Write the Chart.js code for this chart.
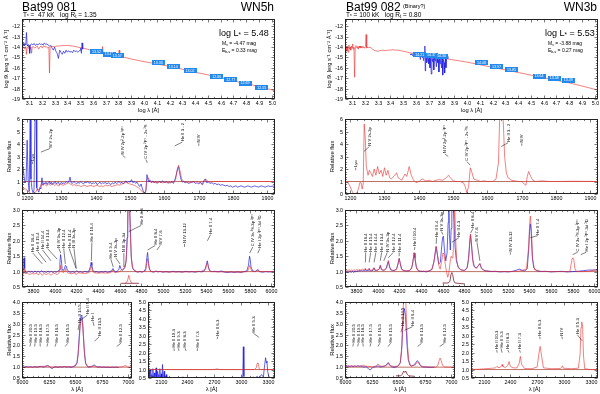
<!DOCTYPE html>
<html><head><meta charset="utf-8">
<script src="https://cdn.jsdelivr.net/npm/chart.js@4.4.1/dist/chart.umd.min.js"></script>
<style>
body{margin:0;background:#fff}
#page{position:relative;width:600px;height:394px;overflow:hidden;font-family:"Liberation Sans",Arial,sans-serif}
#page canvas{position:absolute;left:0;top:0}
.t{position:absolute;line-height:1;white-space:nowrap;color:#000;z-index:5}
.s{font-size:70%;position:relative;top:0.25em}
</style></head><body><div id="page">
<div class="t" style="left:22px;top:1px;font-size:12px">Bat99 081</div>
<div class="t" style="right:326px;top:1px;font-size:12px">WN5h</div>
<div class="t" style="left:23px;top:11.5px;font-size:6.5px">T<span class="s">*</span> =&nbsp; 47 kK&nbsp;&nbsp; log R<span class="s">t</span> = 1.35</div>
<div class="t" style="left:219px;top:28.5px;font-size:9px">log L<span class="s">*</span> = 5.48</div>
<div class="t" style="left:222px;top:41px;font-size:5px">M<span class="s">v</span> = -4.47 mag</div>
<div class="t" style="left:222px;top:48px;font-size:5px">E<span class="s">b-v</span> = 0.33 mag</div>
<div class="t" style="left:346px;top:1px;font-size:12px">Bat99 082</div>
<div class="t" style="left:403px;top:4px;font-size:5.5px">(Binary?)</div>
<div class="t" style="right:3px;top:1px;font-size:12px">WN3b</div>
<div class="t" style="left:346px;top:11.5px;font-size:6.5px">T<span class="s">*</span> = 100 kK&nbsp;&nbsp; log R<span class="s">t</span> = 0.80</div>
<div class="t" style="left:545px;top:28.5px;font-size:9px">log L<span class="s">*</span> = 5.53</div>
<div class="t" style="left:548px;top:41px;font-size:5px">M<span class="s">v</span> = -3.88 mag</div>
<div class="t" style="left:548px;top:48px;font-size:5px">E<span class="s">b-v</span> = 0.27 mag</div>
</div>
<script>
// axis ranges
const sedLogLam = [3.045, 5.025], sedLogF = [-19, -11.3];
const uvLam = [1185, 1922], uvFlux = [0, 6];
const optLam = [3700, 6035], optFlux = [0.5, 3.0];
const haLam = [6000, 7035], haFlux = [0.5, 4.0];
const irLam = [1960, 3380], irFlux = [0.5, 5.0];
const contLevel = 1;

// ---- Bat99 081 (left) ----
const sedObsL = [[3.045,-14.0],[3.05,-13.7],[3.055,-13.85],[3.06,-13.6],[3.065,-13.9],[3.07,-13.7],[3.075,-13.75],[3.08,-12.6],[3.085,-13.8],[3.09,-13.9],[3.095,-13.75],[3.1,-13.85],[3.105,-14.6],[3.11,-13.8],[3.115,-13.75],[3.12,-13.7],[3.13,-13.8],[3.14,-13.65],[3.15,-13.85],[3.16,-13.7],[3.17,-13.8],[3.18,-13.65],[3.19,-13.75],[3.2,-13.7],[3.21,-13.8],[3.22,-13.6],[3.23,-13.75],[3.24,-13.7],[3.25,-13.8],[3.26,-13.9],[3.27,-13.85],[3.28,-14.1],[3.29,-14.3],[3.3,-14.0],[3.31,-14.4],[3.32,-14.6],[3.33,-15.1],[3.34,-14.3],[3.35,-14.5],[3.36,-14.7],[3.37,-14.4],[3.38,-14.6],[3.39,-14.3],[3.4,-14.5],[3.41,-14.35],[3.42,-14.5],[3.43,-14.4],[3.44,-14.55],[3.45,-14.3],[3.46,-14.45],[3.47,-14.35],[3.48,-14.5],[3.49,-14.4],[3.5,-14.3],[3.505,-14.1],[3.51,-14.6],[3.515,-13.6],[3.52,-14.2]];
const sedModL = [[3.045,-14.1],[3.055,-14.0],[3.065,-14.2],[3.075,-13.95],[3.08,-14.7],[3.085,-14.1],[3.095,-13.9],[3.105,-14.3],[3.115,-14.0],[3.12,-14.6],[3.125,-14.0],[3.135,-13.95],[3.145,-14.1],[3.155,-14.0],[3.165,-13.9],[3.175,-14.2],[3.185,-14.0],[3.195,-13.9],[3.205,-14.1],[3.215,-13.85],[3.225,-14.0],[3.235,-13.95],[3.245,-14.1],[3.255,-14.0],[3.26,-16.5],[3.265,-14.05],[3.275,-13.9],[3.285,-13.95],[3.3,-13.95],[3.32,-13.9],[3.34,-13.9],[3.36,-13.85],[3.38,-13.85],[3.4,-13.85],[3.42,-13.87],[3.44,-13.9],[3.46,-13.95],[3.48,-14.0],[3.5,-14.05],[3.53,-14.12],[3.56,-14.22],[3.6,-14.35],[3.64,-14.48],[3.67,-14.55],[3.675,-13.95],[3.68,-14.57],[3.7,-14.62],[3.75,-14.75],[3.8,-14.88],[3.805,-14.3],[3.81,-14.9],[3.85,-15.0],[3.9,-15.15],[3.95,-15.28],[4.0,-15.4],[4.1,-15.62],[4.2,-15.87],[4.3,-16.13],[4.4,-16.42],[4.5,-16.68],[4.6,-16.97],[4.7,-17.25],[4.8,-17.52],[4.9,-17.8],[5.025,-18.2]];
const sedPhotL = [[3.628,-14.46],[3.727,-14.68],[3.79,-14.81],[4.111,-15.52],[4.229,-15.9],[4.36,-16.25],[4.569,-16.86],[4.679,-17.11],[4.791,-17.46],[4.922,-17.88]];
const sedMagL = ['13.52','13.61','13.57','13.33','13.14','13.02','12.86','12.77','12.69','12.55'];

const uvObsL = [[1185,1.9],[1188,2.2],[1191,1.4],[1194,0.9],[1197,1.1],[1200,4.3],[1203,1.0],[1206,0.2],[1209,6.5],[1211,1.2],[1214,0.4],[1217,0.1],[1220,0.3],[1223,6.5],[1226,6.5],[1228,0.5],[1231,0.3],[1234,0.15],[1237,0.5],[1240,0.4],[1243,1.3],[1246,0.7],[1249,0.9],[1252,0.8],[1255,0.95],[1258,0.75],[1261,0.9],[1264,1.0],[1267,0.8],[1270,0.95],[1273,0.75],[1276,0.9],[1279,0.85],[1282,1.0],[1285,0.8],[1288,0.9],[1291,0.95],[1294,0.75],[1297,0.85],[1300,0.95],[1303,0.8],[1306,0.9],[1310,0.85],[1314,1.0],[1318,0.9],[1322,1.05],[1325,1.35],[1328,0.9],[1332,0.85],[1336,1.0],[1340,0.9],[1344,0.8],[1348,0.95],[1352,0.85],[1356,1.0],[1360,0.9],[1364,0.8],[1368,0.95],[1372,0.9],[1376,1.0],[1380,0.85],[1384,0.95],[1388,0.8],[1392,0.9],[1396,0.85],[1400,0.95],[1404,0.75],[1408,0.85],[1412,0.95],[1416,0.8],[1420,0.9],[1424,0.85],[1428,0.95],[1432,0.8],[1436,0.9],[1440,0.85],[1444,0.75],[1448,0.9],[1452,0.8],[1456,0.95],[1460,0.85],[1464,0.9],[1468,1.0],[1472,0.85],[1476,0.95],[1480,0.8],[1484,0.95],[1488,1.05],[1492,0.9],[1496,1.0],[1500,0.95],[1504,1.15],[1508,0.9],[1512,1.0],[1516,0.85],[1520,0.95],[1524,0.75],[1528,0.6],[1532,0.8],[1536,0.4],[1540,0.1],[1543,0.05],[1546,0.3],[1549,1.55],[1552,1.2],[1555,0.95],[1558,1.1],[1562,0.9],[1566,1.05],[1570,0.9],[1574,1.0],[1578,0.85],[1582,0.95],[1586,1.0],[1590,0.9],[1594,1.05],[1598,0.95],[1602,0.9],[1606,1.0],[1610,0.85],[1614,0.95],[1618,0.9],[1622,1.0],[1626,0.85],[1630,1.1],[1634,1.5],[1638,2.0],[1641,2.2],[1644,1.7],[1648,1.2],[1652,0.95],[1656,1.0],[1660,0.9],[1665,0.95],[1670,0.85],[1675,0.9],[1680,0.95],[1685,1.0],[1690,0.85],[1695,0.9],[1700,0.8],[1705,0.95],[1710,0.75],[1715,1.1],[1719,1.2],[1723,0.9],[1728,0.95],[1733,0.85],[1738,0.9],[1743,0.8],[1748,0.85],[1753,0.75],[1758,0.8],[1763,0.7],[1768,0.75],[1773,0.7],[1778,0.65],[1783,0.7],[1788,0.6],[1793,0.65],[1798,0.55],[1803,0.6],[1808,0.65],[1813,0.55],[1818,0.6],[1823,0.65],[1828,0.6],[1833,0.55],[1838,0.6],[1843,0.65],[1848,0.6],[1853,0.55],[1858,0.6],[1863,0.65],[1868,0.6],[1873,0.55],[1878,0.6],[1883,0.65],[1888,0.6],[1893,0.55],[1898,0.6],[1903,0.65],[1908,0.6],[1913,0.62],[1922,0.65]];
const uvModL = [[1185,0.5],[1190,0.45],[1195,0.4],[1200,0.3],[1205,0.15],[1210,0.05],[1215,0.0],[1220,0.05],[1225,0.15],[1230,0.45],[1234,0.3],[1238,0.55],[1242,0.85],[1246,0.7],[1250,0.8],[1256,0.65],[1262,0.8],[1268,0.7],[1274,0.85],[1280,0.7],[1286,0.75],[1292,0.65],[1298,0.8],[1304,0.7],[1310,0.75],[1316,0.85],[1322,0.9],[1326,0.8],[1332,0.7],[1338,0.75],[1344,0.65],[1350,0.7],[1356,0.6],[1362,0.65],[1368,0.7],[1374,0.6],[1380,0.65],[1386,0.7],[1392,0.6],[1398,0.65],[1404,0.7],[1410,0.6],[1416,0.65],[1422,0.6],[1428,0.7],[1434,0.65],[1440,0.7],[1446,0.6],[1452,0.65],[1458,0.7],[1464,0.75],[1470,0.7],[1476,0.8],[1482,0.85],[1488,0.95],[1494,0.85],[1500,0.8],[1506,0.75],[1512,0.7],[1518,0.6],[1524,0.5],[1530,0.35],[1536,0.15],[1541,0.05],[1545,0.1],[1549,1.1],[1553,1.3],[1558,1.0],[1565,0.95],[1575,0.9],[1585,0.95],[1595,0.9],[1605,0.95],[1615,0.9],[1625,0.95],[1632,1.1],[1637,1.9],[1641,2.3],[1645,1.9],[1650,1.2],[1656,1.0],[1665,0.95],[1680,0.95],[1695,1.0],[1705,0.9],[1711,0.75],[1716,1.0],[1720,1.2],[1725,1.05],[1732,0.95],[1745,1.0],[1760,1.0],[1800,1.0],[1922,1.0]];
const uvLinesL = [[1216,1216,2.4,2.6,'Lyα'],[1240,1267,3.35,3.65,'N V 2s-2p'],[1486,1478,2.9,3.1,'N IV 2p²-2p ¹P°'],[1550,1546,2.5,2.75,'C IV 2p ²P° - 2s ²S'],[1630,1652,3.85,4.15,'He II 3 - 2'],[1700,1700,3.85,4.05,'N IV']];

const optObsL = [[3700,1.0],[3706,0.97],[3712,1.1],[3716,1.38],[3720,1.45],[3725,1.1],[3732,1.0],[3745,0.96],[3760,1.02],[3775,0.98],[3790,1.01],[3805,0.97],[3820,1.02],[3835,0.98],[3850,1.01],[3865,0.97],[3880,1.03],[3895,0.98],[3910,1.0],[3925,0.97],[3940,1.02],[3955,0.98],[3970,1.01],[3985,0.97],[4000,1.0],[4015,0.98],[4030,1.01],[4042,1.05],[4050,1.3],[4056,1.55],[4062,1.4],[4070,1.1],[4080,1.03],[4092,1.1],[4100,1.2],[4108,1.18],[4118,1.05],[4135,1.0],[4150,0.98],[4170,1.0],[4190,0.97],[4205,1.03],[4220,0.98],[4240,1.0],[4260,0.97],[4280,1.01],[4300,0.98],[4318,1.02],[4330,1.15],[4338,1.3],[4345,1.2],[4355,1.03],[4370,0.99],[4390,1.0],[4410,0.97],[4430,1.0],[4450,0.98],[4470,1.01],[4490,0.97],[4510,1.0],[4528,1.03],[4540,1.1],[4550,1.02],[4565,0.99],[4580,1.02],[4593,1.06],[4603,1.2],[4612,1.1],[4625,1.04],[4640,1.08],[4652,1.15],[4662,1.4],[4670,2.1],[4676,3.0],[4682,3.5],[4688,3.5],[4694,3.2],[4700,2.4],[4708,1.5],[4718,1.15],[4732,1.05],[4750,1.0],[4770,0.98],[4790,1.01],[4810,0.98],[4828,1.02],[4842,1.1],[4852,1.45],[4859,1.62],[4866,1.35],[4876,1.08],[4895,1.0],[4915,0.98],[4935,1.02],[4955,0.99],[4975,1.01],[5000,0.98],[5030,1.0],[5060,0.98],[5090,1.01],[5120,0.99],[5150,1.0],[5180,0.98],[5210,1.01],[5240,0.99],[5270,1.0],[5300,0.98],[5330,1.01],[5360,0.99],[5385,1.03],[5400,1.2],[5410,1.35],[5418,1.2],[5428,1.05],[5450,1.0],[5480,1.01],[5510,0.99],[5540,1.02],[5570,0.98],[5600,0.97],[5630,0.99],[5660,0.97],[5690,0.99],[5720,0.97],[5750,1.0],[5775,1.02],[5790,1.2],[5800,1.5],[5806,1.4],[5814,1.15],[5828,1.03],[5850,1.0],[5870,1.05],[5880,1.06],[5892,1.0],[5920,0.98],[5950,1.0],[5980,0.99],[6010,1.0],[6035,1.0]];
const optModL = [[3700,0.97],[3710,0.92],[3716,1.12],[3722,1.05],[3730,0.93],[3750,0.95],[3770,0.9],[3790,0.94],[3810,0.92],[3830,0.95],[3850,0.9],[3870,0.94],[3888,0.88],[3905,0.95],[3923,0.9],[3945,0.95],[3968,0.88],[3990,0.95],[4010,0.93],[4026,0.9],[4040,0.95],[4050,1.05],[4057,1.2],[4064,1.05],[4080,0.96],[4095,1.02],[4100,1.1],[4110,1.0],[4130,0.95],[4160,0.93],[4185,0.96],[4200,0.9],[4215,0.96],[4250,0.95],[4290,0.94],[4320,0.97],[4335,1.12],[4340,1.2],[4348,1.05],[4365,0.96],[4400,0.95],[4440,0.96],[4480,0.95],[4520,0.97],[4540,1.05],[4555,0.97],[4580,0.98],[4600,1.0],[4615,1.05],[4640,1.1],[4660,1.3],[4672,2.0],[4680,3.0],[4686,3.3],[4692,3.0],[4700,2.2],[4710,1.4],[4725,1.08],[4760,1.0],[4800,0.99],[4840,1.02],[4852,1.3],[4859,1.42],[4868,1.2],[4885,1.0],[4950,1.0],[5050,0.99],[5200,0.99],[5350,1.0],[5395,1.08],[5405,1.25],[5411,1.3],[5420,1.15],[5435,1.0],[5550,0.99],[5700,0.98],[5780,1.0],[5795,1.12],[5801,1.2],[5810,1.12],[5822,1.0],[5860,1.0],[5876,1.06],[5890,1.0],[6035,1.0]];
const optBaseL = [[4615,0.62],[4780,0.62]];
const optPeakL = [[4650,0.62],[4668,0.66],[4678,0.76],[4686,0.88],[4694,0.76],[4704,0.66],[4720,0.62]];
const optLinesL = [[3888,3800,1.25,1.6,'He II 16-4'],[3923,3845,1.3,1.65,'He II 15-4'],[3968,3890,1.35,1.7,'He II 14-4'],[4026,3935,1.4,1.75,'He II 13-4'],[4058,4040,1.6,1.75,'N IV 3s-3p'],[4100,4085,1.25,1.75,'He II 12-4'],[4200,4135,1.1,1.75,'He II 11-4'],[4200,4180,1.1,1.75,'N III 3s-3p'],[4340,4345,1.35,1.95,'He II 10-4'],[4542,4520,1.15,1.4,'He II 9-4'],[4604,4565,1.25,1.45,'N V 3s-3p'],[4640,4640,1.15,1.6,'N III 3p-3d'],[4686,4800,2.3,2.5,'He II 4-3'],[4859,4930,1.7,1.85,'He II 8-4'],[4945,4975,1.7,1.85,'N V 7-6'],[5200,5200,1.8,1.9,'N IV 13-12'],[5411,5440,2.0,2.2,'He II 7-4'],[5801,5830,1.6,1.8,'C IV 3s ²S-3p ²P°'],[5876,5895,1.6,1.75,'He I 2p ³P°-3d ³D']];

const haObsL = [[6000,1.02],[6020,0.99],[6040,1.03],[6060,1.0],[6080,1.02],[6100,0.99],[6120,1.03],[6140,1.0],[6160,1.02],[6180,1.04],[6200,1.0],[6220,1.03],[6240,1.08],[6255,1.04],[6270,0.97],[6285,0.93],[6300,1.0],[6320,1.02],[6340,0.99],[6360,1.02],[6380,1.0],[6400,1.03],[6420,1.0],[6440,1.02],[6460,0.99],[6480,1.02],[6500,1.05],[6515,1.15],[6528,1.6],[6538,2.4],[6548,3.1],[6556,3.38],[6563,3.4],[6570,3.1],[6578,2.4],[6588,1.6],[6600,1.15],[6615,1.03],[6630,1.0],[6650,1.02],[6665,1.06],[6680,1.1],[6695,1.04],[6710,1.0],[6730,1.02],[6750,0.99],[6770,1.01],[6790,0.99],[6810,1.0],[6830,0.98],[6850,1.0],[6870,0.99],[6890,1.0],[6910,0.98]];
const haModL = [[6000,1.0],[6100,1.0],[6170,1.02],[6200,1.04],[6240,1.05],[6280,1.0],[6330,1.01],[6400,1.02],[6480,1.02],[6520,1.2],[6535,2.0],[6548,2.9],[6560,3.3],[6572,2.9],[6585,1.9],[6598,1.2],[6620,1.02],[6683,1.05],[6720,1.0],[6900,1.0],[6950,1.02],[6970,1.08],[6980,1.06],[6995,1.0],[7035,1.0]];
const haLinesL = [[6074,6082,1.95,2.1,'He II 20-5'],[6119,6123,1.95,2.1,'He II 19-5'],[6172,6170,1.95,2.1,'He II 18-5'],[6235,6242,1.95,2.1,'He II 17-5'],[6311,6321,1.95,2.1,'He II 16-5'],[6406,6431,1.95,2.1,'He II 15-5'],[6527,6538,2.7,3.0,'He II 14-5'],[6560,6616,3.2,3.4,'He II 6-4'],[6678,6667,2.9,3.1,'He I'],[6683,6726,2.2,2.4,'He II 13-5'],[6891,6931,1.95,2.1,'He II 12-5']];

const irObsL = [[1960,0.8],[1966,0.5],[1972,0.95],[1978,0.6],[1984,0.5],[1990,1.0],[1996,0.55],[2002,0.7],[2008,0.5],[2014,1.05],[2020,0.6],[2026,0.5],[2032,0.8],[2038,0.5],[2044,0.65],[2050,1.1],[2056,0.55],[2062,0.5],[2068,0.9],[2074,0.5],[2080,0.7],[2086,0.5],[2092,1.05],[2098,0.6],[2104,0.5],[2110,0.75],[2116,0.5],[2122,1.3],[2128,0.55],[2134,0.5],[2140,0.9],[2146,0.5],[2152,0.6],[2158,0.5],[2164,0.7],[2170,0.5],[2180,0.55],[2190,0.5],[2200,0.52],[2300,0.5],[2350,0.55],[2400,0.5],[2950,0.5],[3000,0.52],[3020,0.6],[3026,2.35],[3032,0.6],[3040,0.5],[3100,0.5],[3140,0.55],[3160,0.5],[3180,0.6],[3200,0.5],[3230,0.7],[3250,0.55],[3265,1.3],[3275,1.7],[3283,1.4],[3290,1.5],[3298,0.9],[3310,0.6],[3330,0.5]];
const irModL = [[1960,1.0],[2200,1.0],[2500,1.0],[2700,1.0],[2733,1.04],[2760,1.0],[3100,1.0],[3150,1.0],[3170,1.1],[3180,1.35],[3188,1.4],[3196,1.3],[3205,1.0],[3250,1.0],[3380,1.0]];
const irLinesL = [[2253,2251,2.1,2.26,'He II 10-3'],[2307,2299,2.1,2.26,'He II 9-3'],[2386,2374,2.1,2.26,'He II 8-3'],[2512,2512,2.1,2.26,'He II 7-3'],[2733,2740,2.8,2.95,'He II 6-3'],[3203,3138,2.9,3.15,'He II 5-3']];

// ---- Bat99 082 (right) ----
const sedObsR = [[3.555,-14.7],[3.56,-14.75],[3.565,-14.65],[3.57,-14.8],[3.575,-14.7],[3.58,-14.75],[3.585,-14.9],[3.59,-14.7],[3.595,-14.8],[3.6,-14.75],[3.605,-14.85],[3.61,-14.7],[3.615,-14.8],[3.62,-14.9],[3.625,-14.75],[3.63,-14.85],[3.635,-15.2],[3.64,-14.8],[3.645,-14.9],[3.65,-15.0],[3.655,-14.85],[3.66,-15.3],[3.665,-14.9],[3.67,-13.9],[3.673,-16.3],[3.676,-14.9],[3.68,-15.0],[3.685,-15.5],[3.69,-14.95],[3.695,-15.1],[3.7,-15.6],[3.705,-15.0],[3.71,-16.0],[3.715,-15.1],[3.72,-16.6],[3.725,-15.0],[3.73,-15.4],[3.735,-15.1],[3.74,-16.2],[3.745,-15.0],[3.75,-15.3],[3.755,-15.1],[3.76,-15.9],[3.765,-15.05],[3.77,-15.5],[3.775,-15.2],[3.78,-16.4],[3.785,-15.1],[3.79,-15.6],[3.795,-15.15],[3.8,-16.0],[3.805,-15.1],[3.81,-16.7],[3.815,-15.2],[3.82,-15.5],[3.825,-16.5],[3.83,-15.1],[3.835,-16.0],[3.84,-15.2],[3.845,-14.9],[3.85,-15.1]];
const sedModR = [[3.045,-14.1],[3.05,-14.3],[3.055,-13.9],[3.06,-14.4],[3.065,-14.0],[3.07,-14.5],[3.075,-13.8],[3.08,-14.2],[3.085,-14.0],[3.09,-14.3],[3.095,-13.9],[3.1,-14.1],[3.105,-13.7],[3.11,-14.2],[3.115,-14.0],[3.12,-16.9],[3.125,-14.1],[3.13,-13.85],[3.135,-14.0],[3.14,-14.1],[3.145,-13.95],[3.15,-14.2],[3.155,-13.9],[3.16,-14.05],[3.165,-13.9],[3.17,-14.1],[3.175,-14.0],[3.18,-13.95],[3.185,-14.05],[3.19,-14.0],[3.195,-14.1],[3.2,-14.0],[3.205,-13.95],[3.21,-12.8],[3.215,-14.1],[3.22,-14.0],[3.23,-14.05],[3.24,-14.0],[3.25,-14.1],[3.26,-14.2],[3.28,-14.35],[3.3,-14.4],[3.32,-14.35],[3.34,-14.3],[3.36,-14.35],[3.38,-14.3],[3.4,-14.3],[3.42,-14.25],[3.44,-14.3],[3.46,-14.3],[3.48,-14.35],[3.5,-14.4],[3.52,-14.45],[3.55,-14.55],[3.6,-14.65],[3.65,-14.75],[3.7,-14.85],[3.75,-14.95],[3.8,-15.05],[3.85,-15.15],[3.9,-15.25],[3.95,-15.35],[4.0,-15.45],[4.1,-15.7],[4.2,-15.95],[4.3,-16.2],[4.4,-16.45],[4.5,-16.7],[4.6,-16.95],[4.7,-17.2],[4.8,-17.45],[4.9,-17.75],[5.025,-18.15]];
const sedPhotR = [[3.63,-14.72],[3.721,-14.78],[3.8,-14.88],[4.113,-15.5],[4.231,-15.9],[4.348,-16.2],[4.564,-16.8],[4.682,-17.0],[4.792,-17.2]];
const sedMagR = ['14.21','14.35','14.30','14.08','13.97','13.85','13.64','13.58','13.49'];

const uvModR = [[1185,1.0],[1190,0.95],[1195,0.85],[1200,0.6],[1205,0.25],[1210,0.02],[1215,0.0],[1220,0.1],[1225,0.5],[1228,0.9],[1232,0.9],[1235,0.4],[1238,0.8],[1241,5.6],[1244,4.5],[1247,2.2],[1252,1.5],[1256,1.9],[1260,1.7],[1265,1.4],[1270,2.0],[1275,1.5],[1280,2.2],[1285,1.6],[1290,1.9],[1295,1.4],[1300,2.1],[1305,1.5],[1310,1.9],[1315,1.3],[1320,1.2],[1330,1.5],[1335,1.7],[1340,1.3],[1350,1.1],[1360,1.6],[1365,1.4],[1372,2.2],[1378,1.5],[1385,1.1],[1392,0.9],[1400,1.0],[1410,1.2],[1420,1.05],[1430,1.1],[1440,1.0],[1450,1.1],[1460,1.15],[1470,1.1],[1480,1.3],[1486,1.5],[1492,1.3],[1500,1.05],[1510,1.0],[1520,1.0],[1530,0.9],[1535,0.6],[1540,0.1],[1545,0.6],[1550,2.1],[1555,1.7],[1560,1.2],[1570,1.1],[1580,1.0],[1590,1.05],[1600,1.0],[1615,1.0],[1625,1.2],[1632,2.5],[1636,6.5],[1645,6.5],[1650,3.0],[1655,1.7],[1660,1.3],[1670,1.1],[1690,1.0],[1700,1.0],[1707,0.8],[1712,0.7],[1716,1.4],[1720,1.8],[1726,1.4],[1732,1.1],[1740,1.0],[1760,1.05],[1780,1.0],[1800,1.0],[1850,1.02],[1922,1.0]];
const uvLinesR = [[1216,1216,1.9,2.1,'Lyα'],[1240,1256,3.4,3.8,'N V 2s-2p'],[1486,1476,3.0,3.2,'N IV 2p²-2p ¹P°'],[1550,1540,2.3,2.6,'C IV 2p ²P° - 2s ²S'],[1640,1660,3.8,4.1,'He II 3 - 2'],[1700,1700,3.85,4.05,'N IV']];

const optObsR = [[3700,0.96],[3715,0.99],[3730,0.97],[3745,1.0],[3760,0.98],[3770,1.01],[3780,0.97],[3790,1.02],[3800,0.99],[3810,1.03],[3820,1.0],[3830,1.04],[3840,1.01],[3850,1.05],[3860,1.02],[3870,1.04],[3880,1.03],[3888,1.08],[3896,1.02],[3905,1.04],[3915,1.03],[3923,1.09],[3932,1.02],[3945,1.03],[3958,1.04],[3968,1.12],[3978,1.03],[3992,1.04],[4005,1.05],[4018,1.1],[4026,1.2],[4034,1.08],[4050,1.04],[4065,1.05],[4080,1.1],[4092,1.25],[4100,1.33],[4108,1.22],[4120,1.06],[4140,1.03],[4160,1.04],[4178,1.1],[4192,1.3],[4200,1.42],[4208,1.3],[4222,1.08],[4245,1.03],[4270,1.02],[4295,1.03],[4315,1.1],[4328,1.35],[4338,1.6],[4346,1.45],[4358,1.15],[4375,1.03],[4400,1.0],[4425,1.01],[4450,0.99],[4475,1.02],[4500,1.06],[4520,1.3],[4532,1.6],[4542,1.8],[4552,1.55],[4565,1.25],[4580,1.3],[4592,1.8],[4600,2.1],[4608,2.15],[4618,1.7],[4630,1.35],[4642,1.6],[4652,2.6],[4658,3.3],[4664,2.2],[4672,1.7],[4680,2.4],[4686,3.3],[4696,3.3],[4706,2.6],[4716,1.8],[4728,1.35],[4745,1.15],[4770,1.06],[4800,1.04],[4825,1.1],[4840,1.4],[4850,1.9],[4858,2.2],[4866,1.95],[4878,1.4],[4895,1.15],[4915,1.12],[4932,1.2],[4945,1.25],[4958,1.12],[4980,1.04],[5010,1.02],[5050,1.0],[5090,1.01],[5130,0.99],[5170,1.0],[5210,0.99],[5250,1.01],[5285,1.05],[5310,1.08],[5335,1.04],[5360,1.02],[5382,1.1],[5395,1.7],[5405,2.4],[5411,2.55],[5418,2.3],[5428,1.5],[5442,1.12],[5470,1.03],[5510,1.0],[5550,1.01],[5600,0.99],[5650,1.0],[5700,1.01],[5750,0.99],[5800,1.0],[5850,1.01],[5900,1.03],[5950,1.05],[6000,1.05],[6035,1.06]];
const optModR = [[3700,1.0],[3712,1.05],[3725,1.03],[3740,1.06],[3752,1.02],[3760,1.06],[3772,1.03],[3785,1.06],[3798,1.03],[3810,1.07],[3822,1.04],[3835,1.07],[3848,1.04],[3860,1.08],[3872,1.05],[3888,1.11],[3900,1.04],[3912,1.06],[3923,1.11],[3935,1.04],[3950,1.05],[3968,1.13],[3982,1.04],[4000,1.05],[4015,1.08],[4026,1.2],[4038,1.06],[4060,1.05],[4085,1.12],[4100,1.36],[4112,1.12],[4140,1.04],[4175,1.06],[4190,1.25],[4200,1.44],[4210,1.25],[4225,1.06],[4260,1.02],[4300,1.04],[4322,1.2],[4338,1.62],[4348,1.35],[4362,1.08],[4390,1.02],[4430,1.01],[4470,1.02],[4505,1.08],[4525,1.4],[4540,1.83],[4552,1.6],[4566,1.2],[4578,1.08],[4590,1.3],[4604,1.6],[4614,1.58],[4625,1.25],[4638,0.97],[4648,0.82],[4658,0.95],[4670,1.3],[4680,1.5],[4688,1.45],[4696,1.5],[4704,2.0],[4712,3.3],[4720,2.2],[4730,1.4],[4745,1.12],[4770,1.05],[4805,1.03],[4830,1.15],[4845,1.6],[4858,2.22],[4870,1.75],[4885,1.2],[4910,1.1],[4932,1.2],[4945,1.27],[4960,1.1],[5000,1.02],[5100,1.0],[5200,1.0],[5300,1.01],[5375,1.08],[5395,1.8],[5405,2.6],[5411,2.8],[5420,2.4],[5432,1.4],[5450,1.06],[5500,1.01],[5600,1.0],[5700,1.0],[5775,1.0],[5785,1.2],[5795,1.4],[5803,1.45],[5812,1.38],[5822,1.1],[5835,1.0],[5900,1.0],[5950,1.01],[6000,1.05],[6035,1.05]];
const optInsetR = [[4600,0.63],[4650,0.63],[4668,0.68],[4678,0.9],[4686,0.97],[4694,0.9],[4704,0.7],[4716,0.63],[4800,0.6]];
const optLinesR = [[3888,3891,1.3,1.62,'He II 16-4'],[3923,3937,1.3,1.62,'He II 15-4'],[3968,3985,1.3,1.62,'He II 14-4'],[4026,4038,1.35,1.62,'He II 13-4'],[4058,4090,1.35,1.62,'N IV 3s-3p'],[4100,4145,1.45,1.62,'He II 12-4'],[4200,4200,1.5,1.62,'He II 11-4'],[4340,4345,1.7,1.8,'He II 10-4'],[4542,4544,1.9,2.1,'He II 9-4'],[4604,4590,2.2,2.3,'N V 3s-3p'],[4686,4752,1.95,2.1,'He II 4-3'],[4859,4881,2.25,2.4,'He II 8-4'],[4945,4918,1.35,1.95,'N V 7-6'],[5226,5226,1.55,1.63,'N IV 13-12'],[5411,5480,2.1,2.17,'He II 7-4'],[5801,5848,1.55,1.63,'C IV 3s ²S-3p ²P°'],[5876,5926,1.55,1.63,'He I 2p ³P°-3d ³D']];

const haObsR = [[6000,1.05],[6015,1.02],[6030,1.06],[6045,1.03],[6060,1.05],[6075,1.02],[6090,1.06],[6105,1.03],[6120,1.07],[6135,1.04],[6150,1.05],[6165,1.02],[6180,1.0],[6195,1.03],[6210,0.98],[6225,0.9],[6238,0.87],[6252,0.95],[6268,1.0],[6285,1.02],[6300,1.04],[6312,1.06],[6325,1.02],[6340,1.01],[6355,1.03],[6370,1.05],[6385,1.08],[6400,1.18],[6410,1.2],[6420,1.1],[6435,1.03],[6450,1.0],[6470,0.99],[6490,1.03],[6505,1.08],[6520,1.2],[6532,1.7],[6542,2.7],[6550,3.4],[6558,3.7],[6566,3.5],[6574,2.9],[6584,2.0],[6595,1.35],[6610,1.1],[6625,1.05],[6640,1.08],[6655,1.12],[6668,1.22],[6680,1.3],[6692,1.25],[6705,1.12],[6720,1.03],[6740,1.0],[6760,1.01],[6780,0.99],[6800,1.0],[6820,0.99],[6840,1.0]];
const haModR = [[6000,1.06],[6030,1.04],[6060,1.06],[6080,1.05],[6110,1.04],[6150,1.05],[6172,1.1],[6190,1.05],[6235,1.03],[6260,1.01],[6290,1.05],[6311,1.15],[6330,1.05],[6370,1.04],[6395,1.1],[6406,1.2],[6420,1.08],[6460,1.03],[6500,1.05],[6520,1.2],[6535,2.0],[6545,3.3],[6552,4.3],[6570,4.3],[6578,3.2],[6588,2.0],[6600,1.3],[6620,1.05],[6660,1.1],[6683,1.25],[6700,1.12],[6730,1.02],[6800,1.0],[6860,1.0],[6875,1.1],[6888,1.35],[6895,1.42],[6905,1.3],[6918,1.08],[6940,1.0],[7000,1.0],[7035,1.0]];
const haInsetR = [[6480,0.6],[6525,0.6],[6540,0.68],[6552,0.82],[6562,0.76],[6572,0.82],[6584,0.68],[6600,0.6],[6650,0.58]];
const haLinesR = [[6074,6079,1.95,2.1,'He II 20-5'],[6119,6127,1.95,2.1,'He II 19-5'],[6172,6168,1.95,2.1,'He II 18-5'],[6235,6244,1.95,2.1,'He II 17-5'],[6311,6327,1.95,2.1,'He II 16-5'],[6406,6429,1.95,2.1,'He II 15-5'],[6527,6540,2.6,2.86,'He II 14-5'],[6560,6635,2.7,2.86,'He II 6-4'],[6683,6721,1.95,2.1,'He II 13-5'],[6891,6936,1.95,2.1,'He II 12-5']];

const irModR = [[1960,1.0],[2000,1.01],[2050,1.02],[2100,1.04],[2150,1.06],[2200,1.08],[2235,1.1],[2246,1.16],[2253,1.2],[2262,1.12],[2285,1.12],[2298,1.22],[2307,1.3],[2316,1.18],[2345,1.12],[2372,1.25],[2386,1.47],[2398,1.2],[2430,1.1],[2475,1.1],[2498,1.35],[2512,1.78],[2526,1.3],[2560,1.06],[2640,1.05],[2700,1.15],[2718,1.9],[2733,2.37],[2748,1.85],[2770,1.1],[2860,1.05],[2960,1.06],[2975,1.15],[2982,1.22],[2992,1.08],[3080,1.05],[3160,1.08],[3180,1.9],[3190,3.5],[3198,3.82],[3208,3.55],[3218,1.8],[3232,1.05],[3300,1.0],[3380,1.0]];
const irLinesR = [[2253,2246,2.0,2.16,'He II 10-3'],[2307,2296,2.0,2.26,'He II 9-3'],[2386,2371,2.0,2.16,'He II 8-3'],[2512,2503,2.0,2.16,'He II 7-3'],[2733,2729,2.8,2.95,'He II 6-3'],[2982,2975,2.8,2.95,'N IV'],[3203,3150,2.7,3.05,'He II 5-3']];

// ---- drawing ----
const RED = 'rgba(238,52,52,0.78)', BLUE = 'rgba(30,30,225,0.88)', CONT = '#ad4b3c', DARK = '#7a2232';
const FONT = '"Liberation Sans", Arial, sans-serif';

function series(d, color, w) {
  return { data: d.map(p => ({ x: p[0], y: p[1] })), borderColor: color, borderWidth: w || 0.8,
    pointRadius: 0, fill: false, tension: 0 };
}
function cont(xr) { return series([[xr[0], contLevel], [xr[1], contLevel]], CONT, 0.8); }

function frame(c) {
  return {
    id: 'frame',
    afterDatasetsDraw(chart) {
      const { ctx, chartArea: a, scales: { x, y } } = chart;
      const L = Math.round(a.left) + 0.5, R = Math.round(a.right) - 0.5;
      const T = Math.round(a.top) + 0.5, B = Math.round(a.bottom) - 0.5;
      const seg = (x1, y1, x2, y2) => { ctx.beginPath(); ctx.moveTo(x1, y1); ctx.lineTo(x2, y2); ctx.stroke(); };
      const maj = (v, M) => Math.abs(v / M - Math.round(v / M)) < 1e-6;
      ctx.save();
      // photometry boxes
      if (c.boxes) {
        const [pts, txt] = c.boxes;
        pts.forEach((p, i) => {
          const px = x.getPixelForValue(p[0]), py = y.getPixelForValue(p[1]);
          ctx.fillStyle = '#2389ec';
          ctx.fillRect(Math.round(px - 6.5), Math.round(py - 2.5), 13, 5);
          ctx.fillStyle = '#fff'; ctx.font = '3.6px ' + FONT;
          ctx.textAlign = 'center'; ctx.textBaseline = 'middle';
          ctx.fillText(txt[i], px, py + 0.2);
        });
      }
      // line identifications
      ctx.strokeStyle = '#000'; ctx.fillStyle = '#000'; ctx.lineWidth = 0.5;
      ctx.font = '4.2px ' + FONT;
      (c.lines || []).forEach(([lx, tx, y0, y1, t]) => {
        const X0 = x.getPixelForValue(lx), Y0 = y.getPixelForValue(y0);
        const X1 = x.getPixelForValue(tx), Y1 = y.getPixelForValue(y1);
        seg(X0, Y0, X1, Y1);
        ctx.save(); ctx.translate(X1, Y1 - 0.8); ctx.rotate(-Math.PI / 2);
        ctx.textAlign = 'left'; ctx.textBaseline = 'middle'; ctx.fillText(t, 0, 0.3);
        ctx.restore();
      });
      // frame and ticks
      ctx.lineWidth = 1; ctx.strokeStyle = '#222';
      ctx.strokeRect(L, T, R - L, B - T);
      ctx.lineWidth = 0.6;
      ctx.font = '5.3px ' + FONT;
      ctx.textAlign = 'center'; ctx.textBaseline = 'top';
      for (let i = Math.ceil(x.min / c.xm - 1e-6); i * c.xm <= x.max + 1e-9; i++) {
        const v = i * c.xm, p = Math.round(x.getPixelForValue(v)) + 0.5, m = maj(v, c.xM), l = m ? 3 : 1.6;
        seg(p, B, p, B - l); seg(p, T, p, T + l);
        if (m) ctx.fillText(v.toFixed(c.xd), p, B + 2.5);
      }
      ctx.textAlign = 'right'; ctx.textBaseline = 'middle';
      for (let i = Math.ceil(y.min / c.ym - 1e-6); i * c.ym <= y.max + 1e-9; i++) {
        const v = i * c.ym, p = Math.round(y.getPixelForValue(v)) + 0.5, m = maj(v, c.yM), l = m ? 3 : 1.6;
        seg(L, p, L + l, p); seg(R, p, R - l, p);
        if (m) ctx.fillText(v.toFixed(c.yd), L - 2.5, p);
      }
      ctx.font = '5.8px ' + FONT;
      if (c.xt) {
        ctx.textAlign = 'center'; ctx.textBaseline = 'top';
        ctx.fillText(c.xt, (L + R) / 2, B + c.xty);
      }
      if (c.yt) {
        ctx.save(); ctx.translate(L - c.ytx, (T + B) / 2); ctx.rotate(-Math.PI / 2);
        ctx.textAlign = 'center'; ctx.textBaseline = 'middle'; ctx.fillText(c.yt, 0, 0);
        ctx.restore();
      }
      ctx.restore();
    }
  };
}

function panel(c) {
  const cv = document.createElement('canvas');
  cv.width = 600; cv.height = 394;
  document.getElementById('page').appendChild(cv);
  const [L, T, R, B] = c.area;
  new Chart(cv, {
    type: 'line',
    data: { datasets: c.sets },
    options: {
      responsive: false, animation: false, devicePixelRatio: 1,
      layout: { padding: { left: L, top: T, right: 600 - R, bottom: 394 - B } },
      scales: {
        x: { type: 'linear', min: c.xr[0], max: c.xr[1], display: false },
        y: { type: 'linear', min: c.yr[0], max: c.yr[1], display: false }
      },
      plugins: { legend: { display: false }, tooltip: { enabled: false } }
    },
    plugins: [frame(c)]
  });
}

const sedTitle = 'log fλ [erg s⁻¹ cm⁻² Å⁻¹]';
[0, 323].forEach((dx, k) => {
  const left = k === 0;
  panel({ area: [22 + dx, 19, 275 + dx, 99], xr: sedLogLam, yr: sedLogF, xM: 0.1, xm: 0.05, yM: 1, ym: 0.25, xd: 1, yd: 0,
    sets: left ? [series(sedObsL, BLUE), series(sedModL, RED)] : [series(sedObsR, BLUE), series(sedModR, RED)],
    boxes: left ? [sedPhotL, sedMagL] : [sedPhotR, sedMagR],
    yt: sedTitle, ytx: 16.5, xt: 'log λ [Å]', xty: 9 });
  panel({ area: [22 + dx, 119, 275 + dx, 194], xr: uvLam, yr: uvFlux, xM: 100, xm: 20, yM: 1, ym: 0.2, xd: 0, yd: 0,
    sets: left ? [series(uvModL, RED), series(uvObsL, BLUE), cont(uvLam)] : [series(uvModR, RED), cont(uvLam)],
    lines: left ? uvLinesL : uvLinesR, yt: 'Relative flux', ytx: 13 });
  panel({ area: [22 + dx, 210, 275 + dx, 287], xr: optLam, yr: optFlux, xM: 200, xm: 50, yM: 0.5, ym: 0.1, xd: 0, yd: 1,
    sets: left ? [series(optPeakL, RED), series(optBaseL, DARK), series(optModL, RED), series(optObsL, BLUE), cont(optLam)]
               : [series(optInsetR, DARK), series(optModR, RED), series(optObsR, BLUE), cont(optLam)],
    lines: left ? optLinesL : optLinesR, yt: 'Relative flux', ytx: 13 });
  panel({ area: [22 + dx, 302, 132 + dx, 378], xr: haLam, yr: haFlux, xM: 250, xm: 50, yM: 0.5, ym: 0.1, xd: 0, yd: 1,
    sets: left ? [series(haModL, RED), series(haObsL, BLUE), cont(haLam)]
               : [series(haInsetR, DARK), series(haModR, RED), series(haObsR, BLUE), cont(haLam)],
    lines: left ? haLinesL : haLinesR, yt: 'Relative flux', ytx: 13, xt: 'λ [Å]', xty: 9 });
  panel({ area: [148 + dx, 302, 275 + dx, 378], xr: irLam, yr: irFlux, xM: 300, xm: 100, yM: 0.5, ym: 0.1, xd: 0, yd: 1,
    sets: left ? [series(irModL, RED), series(irObsL, BLUE), cont(irLam)] : [series(irModR, RED), cont(irLam)],
    lines: left ? irLinesL : irLinesR, xt: 'λ [Å]', xty: 9 });
});
</script>
</body></html>
